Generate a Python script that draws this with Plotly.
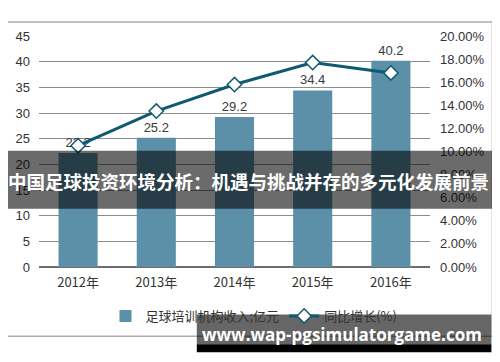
import plotly.graph_objects as go

years = ["2012年", "2013年", "2014年", "2015年", "2016年"]
revenue = [22.2, 25.2, 29.2, 34.4, 40.2]
growth = [10.5, 13.5, 15.8, 17.7, 16.8]
left_ticks = [0, 5, 10, 15, 20, 25, 30, 35, 40, 45]
right_ticks = [0, 2, 4, 6, 8, 10, 12, 14, 16, 18, 20]
right_tick_text = ["%.2f%%" % v for v in right_ticks]

W, H = 500, 362
OFF = 8  # default body margin of the html page
# plot area in page pixels
PL, PR, PT, PB = 39, 430.5, 36, 267.5
L, R, T, B = PL - OFF, PR - OFF, PT - OFF, PB - OFF


def xp(px):
    return (px - OFF - L) / (R - L)


def yp(py):
    return (B - (py - OFF)) / (B - T)


FONT = "Liberation Sans, Arial, Noto Sans CJK SC, sans-serif"
CJK = "Noto Sans CJK SC, Liberation Sans, sans-serif"

fig = go.Figure()
fig.add_trace(go.Bar(
    x=years, y=revenue, name="足球培训机构收入;亿元",
    marker=dict(color="#5B90A8", line=dict(width=0)),
    width=0.5,
    text=[f"{v:.1f}" for v in revenue], textposition="outside",
    textfont=dict(size=13, color="#3a3a3a", family=FONT),
    cliponaxis=False,
))
fig.add_trace(go.Scatter(
    x=years, y=growth, name="同比增长(%)", yaxis="y2",
    mode="lines+markers",
    line=dict(color="#0F5A6E", width=3),
    marker=dict(symbol="diamond", size=11, color="white",
                line=dict(color="#0F5A6E", width=1.5)),
    cliponaxis=False,
))

shapes = [
    dict(type="rect", xref="paper", yref="paper",
         x0=xp(6), x1=xp(493), y0=yp(22), y1=yp(337),
         line=dict(color="#ADADAD", width=1.5), fillcolor="rgba(0,0,0,0)", layer="below"),
    dict(type="rect", xref="paper", yref="paper",
         x0=xp(0), x1=xp(500), y0=yp(151), y1=yp(209),
         line=dict(width=0), fillcolor="rgba(0,0,0,0.58)", layer="above"),
    dict(type="rect", xref="paper", yref="paper",
         x0=xp(197), x1=xp(492), y0=yp(315), y1=yp(345),
         line=dict(width=0), fillcolor="rgba(0,0,0,0.6)", layer="above"),
    dict(type="rect", xref="paper", yref="paper",
         x0=xp(197), x1=xp(492), y0=yp(345), y1=yp(353),
         line=dict(width=0), fillcolor="#000000", layer="above"),
]

annotations = [
    dict(text="中国足球投资环境分析：机遇与挑战并存的多元化发展前景",
         xref="paper", yref="paper", x=xp(249), y=yp(181),
         xanchor="center", yanchor="middle", showarrow=False,
         font=dict(family=CJK, size=18.5, color="white", weight="bold")),
    dict(text="www.wap-pgsimulatorgame.com",
         xref="paper", yref="paper", x=xp(342), y=yp(335),
         xanchor="center", yanchor="middle", showarrow=False,
         font=dict(family="Open Sans, DejaVu Sans, sans-serif", size=17,
                   color="white", weight="bold")),
]

fig.update_layout(
    width=W, height=H,
    margin=dict(l=L, r=W - R, t=T, b=H - B, pad=0, autoexpand=False),
    paper_bgcolor="white", plot_bgcolor="white",
    font=dict(family=FONT, size=13, color="#333333"),
    showlegend=True,
    legend=dict(orientation="h", xref="container", yref="container",
                x=(254 - OFF) / W, xanchor="center",
                y=1 - (316 - OFF) / H, yanchor="middle",
                font=dict(family=CJK, size=13, color="#333333"),
                bgcolor="rgba(0,0,0,0)", itemwidth=30),
    xaxis=dict(showgrid=False, showline=False, ticks="", automargin=False,
               tickfont=dict(size=13, family=CJK, color="#333333"),
               ticklabelstandoff=6),
    yaxis=dict(range=[0, 45], tickvals=left_ticks, showgrid=True, automargin=False,
               gridcolor="#8C8C8C", gridwidth=1, zeroline=True,
               zerolinecolor="#6E6E6E", zerolinewidth=1.5,
               showline=False, ticks="", ticklabelstandoff=8,
               tickfont=dict(size=13, color="#333333")),
    yaxis2=dict(range=[0, 20], overlaying="y", side="right", automargin=False,
                tickvals=right_ticks, ticktext=right_tick_text,
                showgrid=False, zeroline=False, showline=False, ticks="",
                ticklabelstandoff=9,
                tickfont=dict(size=13, color="#333333")),
    shapes=shapes, annotations=annotations,
    bargap=0.5,
)

fig.write_html("out.html")
